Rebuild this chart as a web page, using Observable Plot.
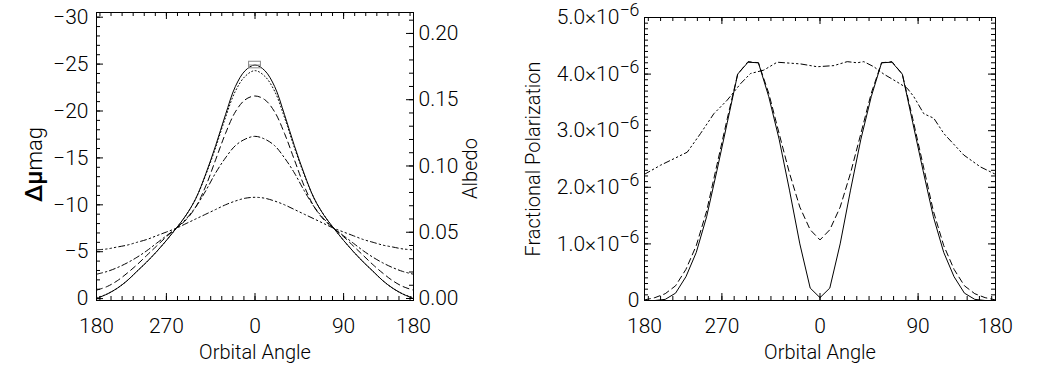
<!DOCTYPE html>
<html><head><meta charset="utf-8">
<script src="https://cdn.jsdelivr.net/npm/d3@7"></script>
<script src="https://cdn.jsdelivr.net/npm/@observablehq/plot@0.6"></script>
<style>
body{margin:0;background:#fff;}
#wrap{position:relative;width:1047px;height:382px;overflow:hidden;}
#wrap svg{position:absolute;top:0;max-width:none;overflow:visible;}
</style></head><body><div id="wrap"></div>
<script>
// ---- shared x axis (orbital angle, 0 at centre) ----
const xDomain = [-161, 161];
const xTickValues = [-161, -90, 0, 90, 161];
const xTickLabels = ["180", "270", "0", "90", "180"];
const xLabel = "Orbital Angle";

// ---- left panel: Δμmag / Albedo ----
const magDomain = [0.2, -30.5];
const albDomain = [-0.0015, 0.2158];
const magTicks = [0, -5, -10, -15, -20, -25, -30];
const magTickLabels = ["0", "−5", "−10", "−15", "−20", "−25", "−30"];
const albTicks = [0, 0.05, 0.10, 0.15, 0.20];
const albTickLabels = ["0.00", "0.05", "0.10", "0.15", "0.20"];
const yLabelLeftGreek = "Δμ";
const yLabelLeftRest = "mag";
const yLabelRight = "Albedo";

const leftAngles = [-161,-150,-140,-130,-120,-110,-100,-90,-80,-70,-60,-50,-40,-30,-20,-10,0,10,20,30,40,50,60,70,80,90,100,110,120,130,140,150,161];
const magSolid   = [0,-0.5,-1.1,-1.9,-2.9,-3.9,-5.0,-6.2,-7.5,-8.9,-10.7,-13.3,-16.3,-19.6,-22.6,-24.3,-24.9,-24.3,-22.6,-19.6,-16.3,-13.3,-10.7,-8.9,-7.5,-6.2,-5.0,-3.9,-2.9,-1.9,-1.1,-0.5,0];
const magDotted  = [-0.1,-0.5,-1.1,-1.9,-2.9,-3.9,-5.0,-6.2,-7.5,-8.9,-10.7,-13.2,-16.1,-19.3,-22.1,-23.7,-24.3,-23.7,-22.1,-19.3,-16.1,-13.2,-10.7,-8.9,-7.5,-6.2,-5.0,-3.9,-2.9,-1.9,-1.1,-0.5,-0.1];
const magDashed  = [-0.9,-1.3,-1.9,-2.7,-3.6,-4.6,-5.6,-6.6,-7.5,-8.4,-9.8,-12.0,-14.8,-17.6,-19.9,-21.2,-21.6,-21.2,-19.9,-17.6,-14.8,-12.0,-9.8,-8.4,-7.5,-6.6,-5.6,-4.6,-3.6,-2.7,-1.9,-1.3,-0.9];
const magDashDot = [-2.6,-2.9,-3.3,-3.8,-4.4,-5.1,-5.9,-6.7,-7.5,-8.5,-9.8,-11.5,-13.4,-15.0,-16.3,-17.0,-17.3,-17.0,-16.3,-15.0,-13.4,-11.5,-9.8,-8.5,-7.5,-6.7,-5.9,-5.1,-4.4,-3.8,-3.3,-2.9,-2.6];
const magDash3Dot= [-5.2,-5.3,-5.5,-5.7,-6.0,-6.3,-6.7,-7.1,-7.5,-8.0,-8.5,-9.0,-9.5,-10.0,-10.4,-10.7,-10.8,-10.7,-10.4,-10.0,-9.5,-9.0,-8.5,-8.0,-7.5,-7.1,-6.7,-6.3,-6.0,-5.7,-5.5,-5.3,-5.2];
// observed point (box) at the peak
const obsAngle = [0];
const obsHalfWidth = 6;
const obsMag = [-24.9];
const obsErr = 0.35;

// ---- right panel: fractional polarization (units of 1e-6) ----
const polDomain = [0, 5];
const polTicks = [0, 1, 2, 3, 4, 5];
const polTickLabels = ["0", "1.0×10", "2.0×10", "3.0×10", "4.0×10", "5.0×10"];
const polExponent = "−6";
const yLabelPol = "Fractional Polarization";

const rightAngles = [-161,-151.5,-142,-132.5,-123,-113.5,-104,-94.5,-85,-75.5,-66,-56.5,-47,-37.5,-28,-18.5,-9,0,9,18.5,28,37.5,47,56.5,66,75.5,85,94.5,104,113.5,123,132.5,142,151.5,161];
const polSolid  = [0,0,0.02,0.13,0.42,0.85,1.48,2.3,3.15,4.0,4.21,4.2,3.6,2.85,1.95,1.0,0.22,0.05,0.22,1.0,1.95,2.85,3.6,4.2,4.21,4.0,3.15,2.3,1.48,0.85,0.42,0.13,0.02,0,0];
const polDashed = [0.01,0.05,0.12,0.26,0.55,0.97,1.58,2.4,3.22,4.0,4.22,4.2,3.66,2.95,2.25,1.65,1.25,1.07,1.25,1.65,2.25,2.95,3.66,4.2,4.22,4.0,3.22,2.4,1.58,0.97,0.55,0.26,0.12,0.05,0.01];
const ddAngles  = [-161,-146.3,-121.8,-109.6,-97.4,-85.1,-72.9,-63.8,-51.6,-39.3,-17.9,-2.6,12.7,25,34.1,40.2,49.4,58.5,70.8,80,86.1,95.2,104.4,113.6,131.9,147.2,161];
const polDash3Dot = [2.23,2.39,2.62,2.95,3.30,3.54,3.83,4.01,4.07,4.21,4.18,4.13,4.15,4.22,4.20,4.22,4.13,4.0,3.86,3.75,3.6,3.30,3.22,2.95,2.57,2.36,2.23];

// ---- styles ----
const DOT = "1,2.5", DASH = "6,4", DASHDOT = "6,3,1.5,3", DASH3DOT = "6,3,1.5,3,1.5,3,1.5,3";
const FONT = {fontFamily: "Roboto, 'DejaVu Sans', sans-serif", fontWeight: "300", fontSize: "21px"};
const MAJ = 7, MIN = 4;

const xMinor = d3.range(-157.5, 158, 11.25);
const magMinor = d3.range(-30, 0.5, 1);
const albMinor = d3.range(0, 0.2151, 0.01);
const polMinor = d3.range(0, 5.001, 0.1);

const wrap = document.getElementById("wrap");
const SVGNS = "http://www.w3.org/2000/svg";

// ---------- LEFT ----------
{
  const W = 523, H = 382, mL = 96, mR = 110, mT = 12, mB = 82;
  const iw = W - mL - mR, ih = H - mT - mB;
  const albToMag = a => magDomain[0] + (a - albDomain[0]) / (albDomain[1] - albDomain[0]) * (magDomain[1] - magDomain[0]);
  const lineOpts = (y, dash) => ({x: leftAngles, y, stroke: "black", strokeWidth: 1, strokeDasharray: dash, curve: "catmull-rom"});
  const p = Plot.plot({
    width: W, height: H, marginLeft: mL, marginRight: mR, marginTop: mT, marginBottom: mB,
    style: FONT,
    x: {domain: xDomain},
    y: {domain: magDomain},
    marks: [
      Plot.line(leftAngles, lineOpts(magDash3Dot, DASH3DOT)),
      Plot.line(leftAngles, lineOpts(magDashDot, DASHDOT)),
      Plot.line(leftAngles, lineOpts(magDashed, DASH)),
      Plot.line(leftAngles, lineOpts(magDotted, DOT)),
      Plot.line(leftAngles, lineOpts(magSolid, null)),
      Plot.rect(obsAngle, {x1: d => d - obsHalfWidth, x2: d => d + obsHalfWidth, y1: (d, i) => obsMag[i] - obsErr, y2: (d, i) => obsMag[i] + obsErr, stroke: "#888", fill: "none", strokeWidth: 1}),
      Plot.ruleY(obsMag, {x1: obsAngle[0] - obsHalfWidth, x2: obsAngle[0] + obsHalfWidth, stroke: "#888"}),
      // ticks (inward)
      Plot.tickX(xTickValues, {x: d => d, insetTop: ih - MAJ, stroke: "black"}),
      Plot.tickX(xMinor, {x: d => d, insetTop: ih - MIN, stroke: "black"}),
      Plot.tickX(xTickValues, {x: d => d, insetBottom: ih - MAJ, stroke: "black"}),
      Plot.tickX(xMinor, {x: d => d, insetBottom: ih - MIN, stroke: "black"}),
      Plot.tickY(magTicks, {y: d => d, insetRight: iw - MAJ, stroke: "black"}),
      Plot.tickY(magMinor, {y: d => d, insetRight: iw - MIN, stroke: "black"}),
      Plot.tickY(albTicks.map(albToMag), {y: d => d, insetLeft: iw - MAJ, stroke: "black"}),
      Plot.tickY(albMinor.map(albToMag), {y: d => d, insetLeft: iw - MIN, stroke: "black"}),
      Plot.frame({stroke: "black"}),
      Plot.axisX({ticks: xTickValues, tickSize: 0, tickPadding: 18, label: null, fontSize: 21,
        tickFormat: d => xTickLabels[xTickValues.indexOf(d)]}),
      Plot.axisY({ticks: magTicks, anchor: "left", tickSize: 0, tickPadding: 8, label: null, fontSize: 21,
        tickFormat: d => magTickLabels[magTicks.indexOf(d)]}),
      Plot.axisY({ticks: albTicks.map(albToMag), anchor: "right", tickSize: 0, tickPadding: 5, label: null, fontSize: 21,
        tickFormat: (d) => albTickLabels[albTicks.map(albToMag).indexOf(d)]}),
      Plot.text([xLabel], {text: d => d, frameAnchor: "bottom", dy: 58, fontSize: 20}),
      Plot.text([yLabelLeftGreek + yLabelLeftRest], {text: d => d, frameAnchor: "left", textAnchor: "middle", dx: -62, dy: 8, rotate: -90, fontSize: 22}),
      Plot.text([yLabelRight], {text: d => d, frameAnchor: "right", textAnchor: "middle", dx: 57, dy: 12, rotate: -90, fontSize: 20})
    ]
  });
  p.style.left = "0px";
  wrap.appendChild(p);
  // Δμ in a heavier weight (as in the reference)
  p.querySelectorAll('text').forEach(t => {
    if (t.textContent === yLabelLeftGreek + yLabelLeftRest) {
      t.textContent = "";
      const a = document.createElementNS(SVGNS, "tspan");
      a.setAttribute("font-weight", "500");
      a.setAttribute("font-size", "24");
      a.textContent = yLabelLeftGreek;
      const b = document.createElementNS(SVGNS, "tspan");
      b.textContent = yLabelLeftRest;
      t.appendChild(a); t.appendChild(b);
    }
  });
}

// ---------- RIGHT ----------
{
  const W = 524, H = 382, mL = 121, mR = 52, mT = 17, mB = 82;
  const iw = W - mL - mR, ih = H - mT - mB;
  const p = Plot.plot({
    width: W, height: H, marginLeft: mL, marginRight: mR, marginTop: mT, marginBottom: mB,
    style: FONT,
    x: {domain: xDomain},
    y: {domain: polDomain},
    marks: [
      Plot.line(ddAngles, {x: ddAngles, y: polDash3Dot, stroke: "black", strokeWidth: 1, strokeDasharray: DASH3DOT}),
      Plot.line(rightAngles, {x: rightAngles, y: polDashed, stroke: "black", strokeWidth: 1, strokeDasharray: DASH}),
      Plot.line(rightAngles, {x: rightAngles, y: polSolid, stroke: "black", strokeWidth: 1}),
      Plot.tickX(xTickValues, {x: d => d, insetTop: ih - MAJ, stroke: "black"}),
      Plot.tickX(xMinor, {x: d => d, insetTop: ih - MIN, stroke: "black"}),
      Plot.tickX(xTickValues, {x: d => d, insetBottom: ih - MAJ, stroke: "black"}),
      Plot.tickX(xMinor, {x: d => d, insetBottom: ih - MIN, stroke: "black"}),
      Plot.tickY(polTicks, {y: d => d, insetRight: iw - MAJ, stroke: "black"}),
      Plot.tickY(polMinor, {y: d => d, insetRight: iw - MIN, stroke: "black"}),
      Plot.tickY(polTicks, {y: d => d, insetLeft: iw - MAJ, stroke: "black"}),
      Plot.tickY(polMinor, {y: d => d, insetLeft: iw - MIN, stroke: "black"}),
      Plot.frame({stroke: "black"}),
      Plot.axisX({ticks: xTickValues, tickSize: 0, tickPadding: 18, label: null, fontSize: 21,
        tickFormat: d => xTickLabels[xTickValues.indexOf(d)]}),
      Plot.axisY({ticks: polTicks, anchor: "left", tickSize: 0, tickPadding: 5, label: null, fontSize: 21,
        tickFormat: d => polTickLabels[polTicks.indexOf(d)]}),
      Plot.text([xLabel], {text: d => d, frameAnchor: "bottom", dy: 58, fontSize: 20}),
      Plot.text([yLabelPol], {text: d => d, frameAnchor: "left", textAnchor: "middle", dx: -111, dy: 0, rotate: -90, fontSize: 20})
    ]
  });
  p.style.left = "523px";
  wrap.appendChild(p);
  // superscript exponent on the polarization tick labels
  p.querySelectorAll('g[aria-label="y-axis tick label"] text').forEach(t => {
    if (t.textContent.trim() !== "0") {
      const ts = document.createElementNS(SVGNS, "tspan");
      ts.setAttribute("dy", "-0.45em");
      ts.setAttribute("font-size", "0.85em");
      ts.textContent = polExponent;
      t.appendChild(ts);
    }
  });
}
</script></body></html>
